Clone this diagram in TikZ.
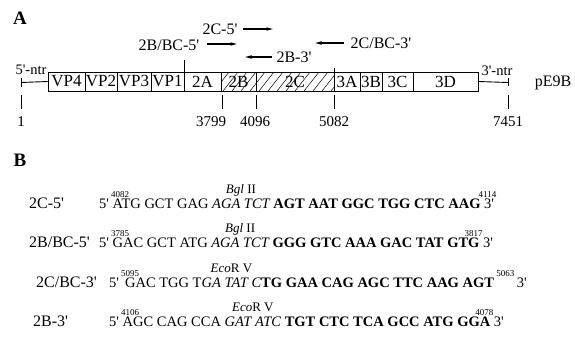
\documentclass[tikz,border=0pt]{standalone}
\usepackage{fontspec}
\setmainfont{Liberation Serif}
\usetikzlibrary{arrows.meta}

% small position numbers above a sequence
\newcommand\numtag[1]{{\fontsize{9}{9}\selectfont\mdseries\upshape #1}}
\newcommand\lead[1]{\makebox[0pt][l]{\hspace{-1.5pt}\raisebox{0.72em}{\numtag{#1}}}}
\newcommand\tail[1]{\makebox[0pt][r]{\raisebox{0.72em}{\numtag{#1}}\hspace{-3pt}}}
\newcommand\after[1]{\rlap{\hspace{-2pt}\raisebox{0.72em}{\numtag{#1}}}}
% restriction site: italic bases with the enzyme name centred above
\newsavebox\sitebox
\newcommand\site[2]{\sbox\sitebox{\itshape #2}\rlap{\hbox to \wd\sitebox{\hss\raisebox{1.0em}{\fontsize{13}{13}\selectfont\upshape #1}\hss}}\usebox\sitebox}

\begin{document}
\begin{tikzpicture}[x=1pt,y=-1pt,
  segbox/.style={draw, line width=0.8pt, minimum height=19pt, inner sep=0pt,
                 font=\fontsize{17}{17}\selectfont},
  segtext/.style={inner sep=0pt, font=\fontsize{17}{17}\selectfont},
  lbl/.style={inner sep=0pt, font=\fontsize{16}{16}\selectfont},
  ntr/.style={inner sep=0pt, font=\fontsize{14.5}{14.5}\selectfont},
  numlbl/.style={inner sep=0pt, font=\fontsize{15}{15}\selectfont},
  prim/.style={-{Latex[length=7.5pt,width=3.6pt]}, line width=1.1pt},
  tickline/.style={line width=0.9pt},
  panel/.style={inner sep=0pt, font=\fontsize{19}{19}\selectfont\bfseries},
  seqname/.style={anchor=base west, inner sep=0pt, font=\fontsize{16}{16}\selectfont},
  seqline/.style={anchor=base west, inner sep=0pt, font=\fontsize{14.5}{14.5}\selectfont}]
\useasboundingbox (0,0) rectangle (575,345);

% ---------------- panel A: genome map ----------------
\node[panel] (A) at (20,18) {A};

% hatching of the 2B/2C region
\begin{scope}
  \clip (221,72) rectangle (334,91);
  \foreach \x in {196,205,...,340}
    \draw[line width=0.5pt] (\x,91) -- (\x+15,72);
\end{scope}

\node[segbox, minimum width=37pt] (vp4) at (66.5,81.5) {VP4};
\node[segbox, minimum width=32pt] (vp2) at (101,81.5) {VP2};
\node[segbox, minimum width=34pt] (vp3) at (134,81.5) {VP3};
\node[segbox, minimum width=33pt] (vp1) at (167.5,81.5) {VP1};
\node[segbox, minimum width=37pt] (s2a) at (202.5,81.5) {2A};
\node[segbox, minimum width=35pt] (s2b) at (238.5,81.5) {};
\node[segbox, minimum width=78pt] (s2c) at (295,81.5) {};
\node[segtext] (t2b) at (s2b) {2B};
\node[segtext] (t2c) at (s2c) {2C};
\node[segbox, minimum width=26pt] (s3a) at (347,81.5) {3A};
\node[segbox, minimum width=22pt] (s3b) at (371,81.5) {3B};
\node[segbox, minimum width=31pt] (s3c) at (397.5,81.5) {3C};
\node[segbox, minimum width=65pt] (s3d) at (445.5,81.5) {3D};

% taller boundary marks
\draw[line width=0.9pt] (vp1.north east) ++(0,-12) -- (vp1.south east);
\draw[line width=0.9pt] (s2c.north east) ++(0,-4) -- (s2c.south east);

% untranslated regions
\coordinate (l5) at (21,82.5);
\coordinate (r3) at (508,82.5);
\draw[line width=0.9pt] (l5) -- (vp4.west);
\draw[line width=0.9pt] (s3d.east) -- (r3);
\draw[tickline] (21,78) -- (21,87);
\draw[tickline] (508,78) -- (508,86);
\node[ntr] (ntr5) at (31,70) {5\textquotesingle-ntr};
\node[ntr] (ntr3) at (497,71) {3\textquotesingle-ntr};
\node[lbl] (pe9b) at (553,83) {pE9B};

% nucleotide positions
\foreach \n/\x in {p1/21, p3799/222, p4096/256, p5082/334, p7451/508}{
  \coordinate (\n) at (\x,95);
  \draw[tickline] (\n) -- ++(0,14);
}
\node[numlbl] (n1) at (21,122) {1};
\node[numlbl] (n3799) at (211,122) {3799};
\node[numlbl] (n4096) at (255,122) {4096};
\node[numlbl] (n5082) at (334,122) {5082};
\node[numlbl] (n7451) at (508,122) {7451};

% primers
\node[lbl] (c5) at (220,29) {2C-5\textquotesingle};
\coordinate (c5a) at (243,29);  \coordinate (c5b) at (274,29);
\draw[prim] (c5a) -- (c5b);
\node[lbl] (bc5) at (169,45) {2B/BC-5\textquotesingle};
\coordinate (bc5a) at (207,44); \coordinate (bc5b) at (238,44);
\draw[prim] (bc5a) -- (bc5b);
\node[lbl] (cbc3) at (381,43) {2C/BC-3\textquotesingle};
\coordinate (cbc3a) at (344,43); \coordinate (cbc3b) at (314,43);
\draw[prim] (cbc3a) -- (cbc3b);
\node[lbl] (b3) at (294,57) {2B-3\textquotesingle};
\coordinate (b3a) at (272,57); \coordinate (b3b) at (244,57);
\draw[prim] (b3a) -- (b3b);

% ---------------- panel B: primer sequences ----------------
\node[panel] (B) at (20,160) {B};

\node[seqname] (r1n) at (29,208) {2C-5\textquotesingle};
\node[seqname] (r2n) at (29,247) {2B/BC-5\textquotesingle};
\node[seqname] (r3n) at (36,287) {2C/BC-3\textquotesingle};
\node[seqname] (r4n) at (33,326) {2B-3\textquotesingle};

\node[seqline] (r1s) at (99,208) {5\textquotesingle\ \lead{4082}ATG GCT GAG \site{\textit{Bgl} II}{AGA TCT} \textbf{AGT AAT GGC TGG CTC AAG}\after{4114}\ 3\textquotesingle};
\node[seqline] (r2s) at (99,247) {5\textquotesingle\ \lead{3785}GAC GCT ATG \site{\textit{Bgl} II}{AGA TCT} \textbf{GGG GTC AAA GAC TAT GTG}\tail{3817}\ 3\textquotesingle};
\node[seqline] (r3s) at (109,287) {5\textquotesingle\ \lead{5095}\,GAC TGG T\site{\textit{Eco}R V}{GA TAT C}\textbf{TG GAA CAG AGC TTC AAG AGT}\,\raisebox{0.72em}{\numtag{5063}}\,3\textquotesingle};
\node[seqline] (r4s) at (109,326) {5\textquotesingle\ \lead{4106}AGC CAG CCA \site{\textit{Eco}R V}{GAT ATC} \textbf{TGT CTC TCA GCC ATG GGA}\tail{4078}\ 3\textquotesingle};
\end{tikzpicture}
\end{document}
